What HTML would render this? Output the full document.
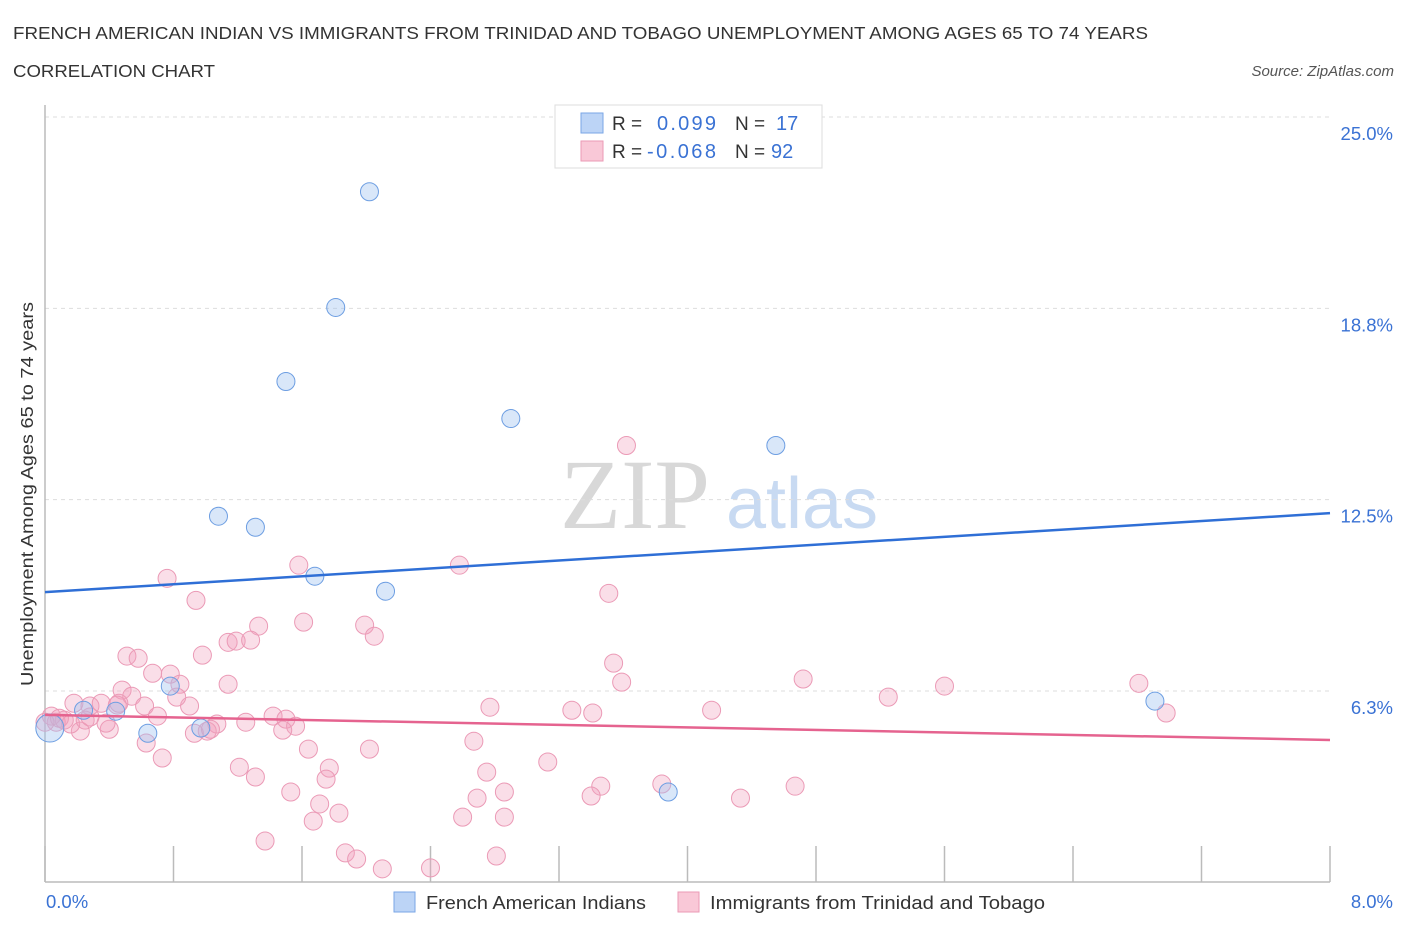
<!DOCTYPE html>
<html><head><meta charset="utf-8"><style>
body{margin:0;background:#fff;font-family:"Liberation Sans",sans-serif;}
svg text{font-family:"Liberation Sans",sans-serif;}
</style></head><body>
<svg id="chart" width="1406" height="930" viewBox="0 0 1406 930">
<text x="13" y="39" font-size="17.5" fill="#333" textLength="1135" lengthAdjust="spacingAndGlyphs">FRENCH AMERICAN INDIAN VS IMMIGRANTS FROM TRINIDAD AND TOBAGO UNEMPLOYMENT AMONG AGES 65 TO 74 YEARS</text>
<text x="13" y="77" font-size="17.5" fill="#333" textLength="202" lengthAdjust="spacingAndGlyphs">CORRELATION CHART</text>
<text x="1394" y="76" font-size="15" fill="#555" font-style="italic" text-anchor="end">Source: ZipAtlas.com</text>
<text x="635" y="528" font-size="100" fill="#d8d8d8" text-anchor="middle" style="font-family:'Liberation Serif',serif">ZIP</text>
<text x="802" y="528" font-size="72" fill="#c8daf2" text-anchor="middle">atlas</text>
<g id="grid"></g>
<g id="axes"></g>
<g id="pts"></g>
<g id="trend"></g>
<text transform="translate(33,494) rotate(-90)" font-size="17.5" fill="#333" text-anchor="middle" textLength="384" lengthAdjust="spacingAndGlyphs">Unemployment Among Ages 65 to 74 years</text>
<g>
<rect x="555" y="105" width="267" height="63" fill="#fff" stroke="#ddd"/>
<rect x="581" y="113" width="22" height="20" fill="#bcd4f6" stroke="#7aa6e6"/>
<rect x="581" y="141" width="22" height="20" fill="#f9c8d7" stroke="#eb9ab6"/>
<text x="612" y="130" font-size="19" fill="#333">R =</text>
<text x="657" y="130" font-size="20" fill="#3a72d4" textLength="59">0.099</text>
<text x="735" y="130" font-size="19" fill="#333">N =</text>
<text x="776" y="130" font-size="20" fill="#3a72d4">17</text>
<text x="612" y="158" font-size="19" fill="#333">R =</text>
<text x="647" y="158" font-size="20" fill="#3a72d4" textLength="69">-0.068</text>
<text x="735" y="158" font-size="19" fill="#333">N =</text>
<text x="771" y="158" font-size="20" fill="#3a72d4">92</text>
</g>
<g>
<rect x="394" y="892" width="21" height="20" fill="#bcd4f6" stroke="#7aa6e6"/>
<text x="426" y="909" font-size="18.5" fill="#333" textLength="220" lengthAdjust="spacingAndGlyphs">French American Indians</text>
<rect x="678" y="892" width="21" height="20" fill="#f9c8d7" stroke="#eb9ab6"/>
<text x="710" y="909" font-size="18.5" fill="#333" textLength="335" lengthAdjust="spacingAndGlyphs">Immigrants from Trinidad and Tobago</text>
</g>
</svg>
<script>
const xTicks=[0,0.8,1.6,2.4,3.2,4.0,4.8,5.6,6.4,7.2,8.0];
const yTicks=[6.25,12.5,18.75,25];
const yTickLabels=["6.3%","12.5%","18.8%","25.0%"];
const xTickLabels=["0.0%","8.0%"];
const blueX=[2.02,1.81,1.50,2.90,4.55,1.08,1.31,1.68,2.12,0.78,0.44,0.24,0.64,0.97,3.88,6.91,0.03];
const blueY=[22.56,18.78,16.36,15.15,14.27,11.96,11.60,10.00,9.51,6.41,5.59,5.62,4.87,5.04,2.95,5.92,5.04];
const blueR=[9,9,9,9,9,9,9,9,9,9,9,9,9,9,9,9,14];
const pinkX=[3.62,1.58,2.58,0.76,0.94,3.51,1.61,1.99,1.33,2.05,1.14,1.19,1.28,0.51,0.58,0.98,3.54,0.67,0.78,0.84,1.14,3.59,4.72,5.60,5.25,6.81,6.98,0.48,0.54,0.18,0.28,0.35,0.46,0.62,0.90,0.82,0.70,2.77,3.28,3.41,4.15,1.42,1.50,1.56,1.25,1.07,1.01,0.93,1.03,1.48,0.40,0.22,0.07,0.12,0.04,0.38,0.63,2.67,1.64,2.02,0.73,1.21,1.31,1.77,2.75,3.13,1.75,3.46,3.84,4.67,1.53,2.86,2.69,3.40,4.33,1.71,1.83,1.67,2.60,2.86,1.37,1.87,1.94,2.10,2.40,2.81,0.09,0.00,0.16,0.25,0.28,0.45];
const pinkY=[14.27,10.36,10.36,9.93,9.21,9.44,8.50,8.40,8.37,8.04,7.84,7.88,7.91,7.39,7.32,7.42,7.16,6.83,6.80,6.47,6.47,6.54,6.64,6.41,6.05,6.50,5.53,6.28,6.08,5.85,5.76,5.85,5.85,5.76,5.76,6.05,5.43,5.72,5.62,5.53,5.62,5.43,5.33,5.10,5.23,5.17,4.94,4.87,5.00,4.97,5.00,4.94,5.23,5.30,5.43,5.20,4.55,4.61,4.35,4.35,4.06,3.76,3.44,3.73,3.60,3.93,3.37,3.14,3.21,3.14,2.95,2.95,2.75,2.82,2.75,2.56,2.26,2.00,2.13,2.13,1.35,0.96,0.76,0.44,0.47,0.86,5.36,5.23,5.17,5.30,5.40,5.79];
const blueTrend=[9.48,12.06];
const pinkTrend=[5.47,4.65];
const NS='http://www.w3.org/2000/svg';
const X0=45,X1=1330,XMAX=8,Y0=882.3,PX=30.61;
function sx(v){return X0+v*(X1-X0)/XMAX;}
function sy(v){return Y0-v*PX;}
function mk(tag,attrs,parent){const e=document.createElementNS(NS,tag);for(const k in attrs)e.setAttribute(k,attrs[k]);document.getElementById(parent).appendChild(e);return e;}
yTicks.forEach((t,i)=>{
  const l=mk('line',{x1:45,x2:1330,y1:sy(t),y2:sy(t),stroke:'#ddd','stroke-dasharray':'4 4'},'grid');
  
  
  const tx=mk('text',{x:1393,y:sy(t)+23,'font-size':18.5,fill:'#3a72d4','text-anchor':'end'},'grid');
  tx.textContent=yTickLabels[i];
  
  
});
const ya=mk('line',{x1:45,x2:45,y1:105,y2:882,stroke:'#bbb','stroke-width':1.5},'axes');


const xa=mk('line',{x1:45,x2:1330,y1:882,y2:882,stroke:'#bbb','stroke-width':1.5},'axes');


xTicks.forEach(t=>{
  const l=mk('line',{x1:sx(t),x2:sx(t),y1:846,y2:882,stroke:'#bbb','stroke-width':1.5},'axes');
  
  
});
const xl0=mk('text',{x:46,y:908,'font-size':18.5,fill:'#3a72d4'},'axes');
xl0.textContent=xTickLabels[0];


const xl1=mk('text',{x:1393,y:908,'font-size':18.5,fill:'#3a72d4','text-anchor':'end'},'axes');
xl1.textContent=xTickLabels[1];


pinkX.forEach((v,i)=>{
  const c=mk('circle',{cx:sx(v),cy:sy(pinkY[i]),r:9,fill:'rgba(242,160,188,0.35)',stroke:'#eb9ab6','stroke-width':1},'pts');
  
  
});
blueX.forEach((v,i)=>{
  const c=mk('circle',{cx:sx(v),cy:sy(blueY[i]),r:blueR[i],fill:'rgba(160,195,240,0.4)',stroke:'#6d9ee2','stroke-width':1},'pts');
  
  
});
const bt=mk('line',{x1:sx(0),x2:sx(8),y1:sy(blueTrend[0]),y2:sy(blueTrend[1]),stroke:'#2f6fd6','stroke-width':2.5},'trend');


const pt=mk('line',{x1:sx(0),x2:sx(8),y1:sy(pinkTrend[0]),y2:sy(pinkTrend[1]),stroke:'#e5638f','stroke-width':2.5},'trend');


</script>
</body></html>
